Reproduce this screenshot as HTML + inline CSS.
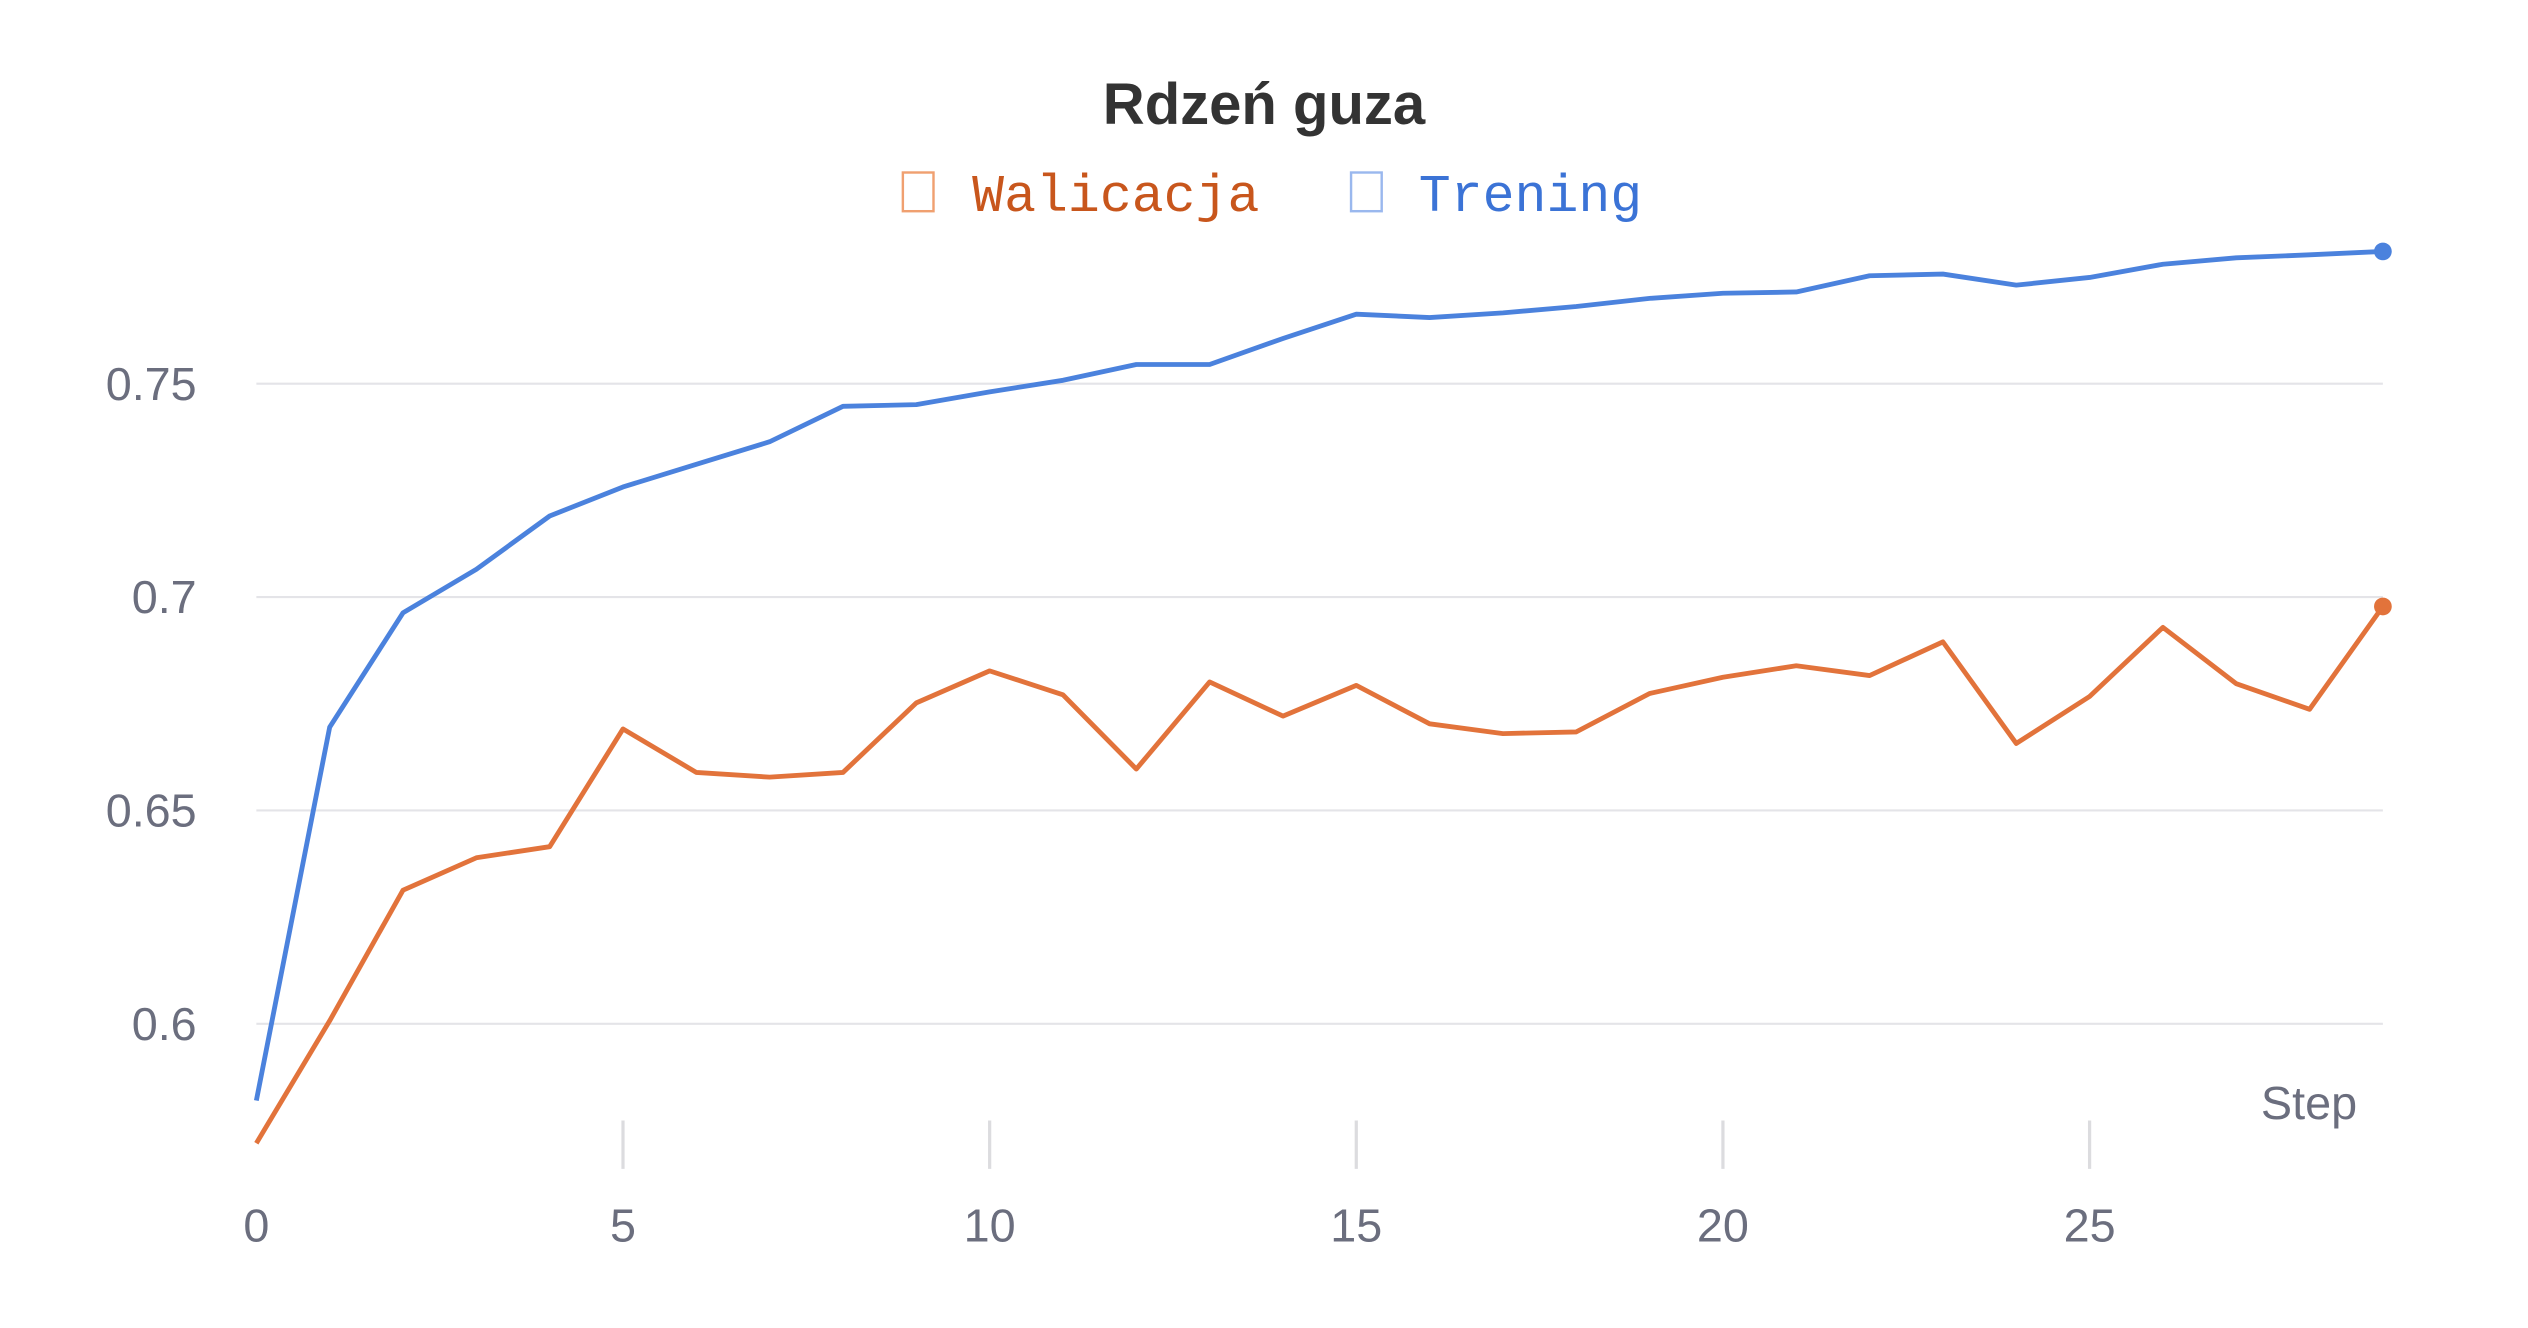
<!DOCTYPE html>
<html><head><meta charset="utf-8"><style>html,body{margin:0;padding:0;background:#fff}svg{display:block}</style></head>
<body>
<svg width="2528" height="1328" viewBox="0 0 1568 823.7" xmlns="http://www.w3.org/2000/svg" font-family="Liberation Sans, sans-serif">
<text x="784" y="77" text-anchor="middle" font-size="36" font-weight="bold" fill="#333">Rdzeń guza</text>
<g font-family="Liberation Mono, monospace" font-size="33">
<g><rect x="560" y="107" width="19" height="24" fill="none" stroke="#f0a070" stroke-width="1.5"/><text x="603" y="131" fill="#c8561c">Walicacja</text></g>
<g><rect x="838" y="107" width="19" height="24" fill="none" stroke="#9ab8ee" stroke-width="1.5"/><text x="880" y="131" fill="#3b73d6">Trening</text></g>
</g>
<g id="grid"></g>
<g id="ax" font-size="29" fill="#6b6e7e"></g>
<text x="1462" y="694" text-anchor="end" font-size="29" fill="#6b6e7e">Step</text>
<g id="series"></g>
</svg>
<script>
const steps=[0,1,2,3,4,5,6,7,8,9,10,11,12,13,14,15,16,17,18,19,20,21,22,23,24,25,26,27,28,29];
const trening=[0.582,0.6695,0.6963,0.7065,0.719,0.7258,0.7311,0.7364,0.7447,0.7451,0.7481,0.7508,0.7545,0.7545,0.7606,0.7663,0.7655,0.7666,0.7681,0.7700,0.7712,0.7715,0.7753,0.7757,0.7731,0.7749,0.7780,0.7795,0.7802,0.7810];
const walicacja=[0.572,0.6007,0.6313,0.6389,0.6415,0.6691,0.6589,0.6578,0.6589,0.6752,0.6827,0.6771,0.6597,0.6801,0.6721,0.6793,0.6703,0.6680,0.6684,0.6774,0.6812,0.6839,0.6816,0.6895,0.6657,0.6767,0.6929,0.6797,0.6737,0.6978];
const yTicks=[0.6,0.65,0.7,0.75];
const yTickLabels=["0.6","0.65","0.7","0.75"];
const xTicks=[0,5,10,15,20,25];
const NS="http://www.w3.org/2000/svg";
const X=v=>159+(v-0)*(1478-159)/29;
const Y=v=>635-(v-0.6)*(635-238)/0.15;
function mk(t,a,p){const e=document.createElementNS(NS,t);for(const k in a)e.setAttribute(k,a[k]);p.appendChild(e);return e;}
const grid=document.getElementById('grid'),ax=document.getElementById('ax'),se=document.getElementById('series');
yTicks.forEach((v,i)=>{
 const l=mk('line',{x1:159,x2:1478,y1:Y(v),y2:Y(v),stroke:'#e4e4e8','stroke-width':1.3},grid);
 
 
 const t=mk('text',{x:122,y:Y(v)+10,'text-anchor':'end'},ax);t.textContent=yTickLabels[i];
 
 
});
xTicks.forEach(v=>{
 if(v!==0){
 const l=mk('line',{x1:X(v),x2:X(v),y1:695,y2:725,stroke:'#dcdcdf','stroke-width':2},ax);
 
 
 }
 const t=mk('text',{x:X(v),y:770,'text-anchor':'middle'},ax);t.textContent=String(v);
 
 
});
function line(d,c,name){
 const p=mk('polyline',{points:d.map((v,i)=>X(steps[i])+','+Y(v)).join(' '),fill:'none',stroke:c,'stroke-width':3,'stroke-linejoin':'round'},se);
 
 
 const n=d.length-1;
 const c2=mk('circle',{cx:X(steps[n]),cy:Y(d[n]),r:5.5,fill:c},se);
 
 
}
line(walicacja,'#e2733b','walicacja');
line(trening,'#4b82dd','trening');
</script>
</body></html>
